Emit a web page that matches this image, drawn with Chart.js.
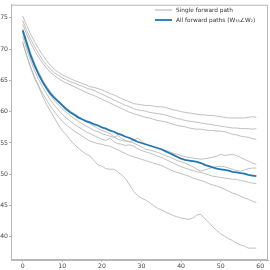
<!DOCTYPE html>
<html>
<head>
<meta charset="utf-8">
<script src="https://cdn.jsdelivr.net/npm/chart.js@4"></script>
<style>
    html, body { margin: 0; padding: 0; background: #ffffff; }
    #wrap { width: 270px; height: 270px; }
</style>
</head>
<body>
<div id="wrap"><canvas id="pathsChart" width="270" height="270"></canvas></div>
<script>
// training steps on the x axis
const steps = [0, 1, 2, 3, 4, 5, 6, 7, 8, 9, 10, 11, 12, 13, 14, 15, 16, 17, 18, 19,
    20, 21, 22, 23, 24, 25, 26, 27, 28, 29, 30, 31, 32, 33, 34, 35, 36, 37, 38, 39,
    40, 41, 42, 43, 44, 45, 46, 47, 48, 49, 50, 51, 52, 53, 54, 55, 56, 57, 58, 59];

const xTicks = [0, 10, 20, 30, 40, 50, 60];
const yTicks = [40, 45, 50, 55, 60, 65, 70, 75];

const singleLabel = 'Single forward path';
const allLabel = 'All forward paths (W\u2083\u2083\u2220W\u2082)';

// single forward paths
const path1 = [75.3, 73.8, 72.4, 71.2, 70.1, 69.1, 68.2, 67.4, 66.8, 66.3, 65.9, 65.6, 65.3, 65.0, 64.8, 64.5, 64.3, 64.0, 63.9, 63.7,
    63.5, 63.2, 62.9, 62.7, 62.4, 62.1, 61.8, 61.6, 61.3, 61.2, 61.1, 61.0, 61.0, 60.9, 60.8, 60.8, 60.7, 60.5, 60.3, 60.2,
    60.0, 59.9, 59.8, 59.7, 59.6, 59.5, 59.5, 59.4, 59.4, 59.3, 59.2, 59.1, 59.0, 59.0, 59.0, 59.0, 59.0, 59.1, 59.2, 59.1];
const path2 = [74.6, 73.0, 71.6, 70.4, 69.3, 68.3, 67.5, 66.8, 66.2, 65.8, 65.4, 65.1, 64.8, 64.6, 64.3, 64.1, 63.8, 63.6, 63.4, 63.1,
    62.8, 62.5, 62.2, 61.9, 61.6, 61.3, 61.0, 60.8, 60.5, 60.3, 60.2, 60.1, 59.9, 59.8, 59.7, 59.6, 59.5, 59.3, 59.1, 58.9,
    58.8, 58.6, 58.5, 58.4, 58.3, 58.2, 58.1, 58.0, 57.9, 57.8, 57.7, 57.6, 57.5, 57.4, 57.4, 57.3, 57.3, 57.3, 57.2, 57.3];
const path3 = [74.0, 72.4, 71.0, 69.8, 68.7, 67.8, 67.0, 66.3, 65.8, 65.3, 64.9, 64.6, 64.3, 64.0, 63.7, 63.4, 63.1, 62.8, 62.6, 62.3,
    62.0, 61.7, 61.4, 61.1, 60.8, 60.5, 60.2, 59.9, 59.7, 59.5, 59.3, 59.1, 59.0, 58.8, 58.6, 58.5, 58.4, 58.2, 58.0, 57.8,
    57.7, 57.6, 57.4, 57.3, 57.2, 57.2, 57.1, 57.0, 57.0, 56.9, 56.9, 56.8, 56.6, 56.4, 56.3, 56.1, 56.0, 55.9, 55.7, 55.6];
const path4 = [73.3, 71.3, 69.4, 67.8, 66.4, 65.2, 64.1, 63.2, 62.4, 61.8, 61.2, 60.6, 60.1, 59.7, 59.3, 58.8, 58.4, 58.1, 57.7, 57.3,
    57.0, 56.8, 56.5, 56.0, 55.6, 55.4, 55.3, 55.2, 55.4, 55.8, 55.3, 54.8, 54.6, 54.4, 54.2, 54.0, 53.8, 53.6, 53.4, 53.2,
    53.0, 52.8, 52.7, 52.6, 52.5, 52.4, 52.5, 52.6, 52.7, 52.9, 53.2, 53.0, 53.1, 53.2, 53.0, 52.7, 52.4, 52.1, 51.8, 51.6];
const path5 = [72.6, 70.6, 68.8, 67.2, 65.9, 64.7, 63.6, 62.6, 61.8, 61.1, 60.5, 59.9, 59.4, 58.9, 58.5, 58.1, 57.7, 57.4, 57.0, 56.8,
    56.5, 56.3, 56.1, 55.9, 56.2, 55.7, 55.4, 55.2, 55.0, 54.7, 54.4, 54.0, 53.9, 53.7, 53.5, 53.3, 53.0, 52.8, 52.5, 52.2,
    52.0, 51.8, 51.5, 51.2, 50.8, 50.5, 50.7, 50.9, 51.1, 51.2, 51.3, 51.2, 51.0, 50.8, 50.6, 50.5, 50.7, 50.9, 51.0, 51.0];
const path6 = [72.0, 70.0, 68.2, 66.6, 65.2, 64.0, 62.9, 61.9, 61.0, 60.3, 59.6, 59.0, 58.5, 58.0, 57.6, 57.2, 56.8, 56.5, 56.2, 55.9,
    55.6, 55.4, 55.8, 55.2, 54.9, 54.8, 54.6, 54.7, 54.5, 54.1, 53.8, 53.6, 53.4, 53.2, 52.9, 52.7, 52.4, 52.1, 51.8, 51.5,
    51.2, 51.0, 50.8, 50.6, 50.4, 50.3, 50.1, 49.9, 49.7, 49.6, 49.5, 49.4, 49.3, 49.2, 49.2, 49.0, 48.9, 48.7, 48.6, 48.5];
const path7 = [71.2, 69.0, 67.2, 65.6, 64.2, 63.0, 61.9, 60.9, 60.0, 59.2, 58.5, 57.9, 57.4, 56.9, 56.5, 56.1, 55.7, 55.3, 55.1, 54.9,
    54.8, 54.6, 54.5, 54.2, 53.9, 53.6, 53.3, 53.0, 52.8, 52.6, 52.4, 52.2, 52.0, 51.8, 51.6, 51.4, 51.1, 50.8, 50.5, 50.3,
    50.1, 49.9, 49.7, 49.4, 49.2, 49.0, 48.8, 48.5, 48.3, 48.1, 47.9, 47.6, 47.3, 47.0, 46.8, 46.5, 46.2, 46.0, 45.7, 45.5];
const path8 = [71.0, 69.0, 67.0, 65.3, 64.0, 62.5, 61.2, 60.1, 59.0, 57.9, 57.0, 56.3, 55.5, 54.8, 54.2, 53.7, 53.2, 52.9, 52.2, 51.5,
    51.3, 50.9, 50.8, 50.8, 50.4, 49.9, 49.3, 48.3, 47.3, 46.6, 46.2, 45.9, 45.5, 45.0, 44.6, 44.3, 44.0, 43.7, 43.4, 43.2,
    43.0, 42.9, 42.8, 43.0, 43.5, 43.6, 42.9, 42.3, 41.6, 41.0, 40.5, 40.1, 39.7, 39.4, 39.0, 38.7, 38.5, 38.2, 38.2, 38.2];

// all forward paths together
const allPaths = [73.0, 71.0, 69.0, 67.4, 66.0, 64.8, 63.8, 62.9, 62.2, 61.6, 61.0, 60.4, 59.9, 59.5, 59.1, 58.8, 58.5, 58.3, 58.0, 57.8,
    57.5, 57.3, 57.0, 56.8, 56.5, 56.3, 56.0, 55.8, 55.5, 55.2, 55.0, 54.8, 54.6, 54.4, 54.2, 54.0, 53.7, 53.4, 53.1, 52.8,
    52.5, 52.3, 52.2, 52.1, 52.0, 51.8, 51.5, 51.3, 51.1, 50.9, 50.8, 50.7, 50.6, 50.4, 50.3, 50.2, 50.1, 49.9, 49.8, 49.7];

const singlePaths = [path1, path2, path3, path4, path5, path6, path7, path8];

const GRAY = '#b0b0b0';
const BLUE = '#1f77b4';
const FONT = "'DejaVu Sans', sans-serif";

function toPoints(values) {
    return values.map((v, i) => ({x: steps[i], y: v}));
}

const datasets = singlePaths.map((p, i) => ({
    label: singleLabel,
    data: toPoints(p),
    borderColor: GRAY,
    borderWidth: 0.8,
    pointRadius: 0,
    tension: 0,
    order: 2,
}));
datasets.push({
    label: allLabel,
    data: toPoints(allPaths),
    borderColor: BLUE,
    borderWidth: 1.8,
    pointRadius: 0,
    tension: 0,
    order: 1,
});

// box round the plot and the legend inside the top right corner
const framePlugin = {
    id: 'frame',
    afterDraw(chart) {
        const {ctx, chartArea} = chart;
        ctx.save();
        ctx.strokeStyle = '#b8b8b8';
        ctx.lineWidth = 1;
        ctx.strokeRect(chartArea.left + 0.5, chartArea.top + 0.5,
            chartArea.right - chartArea.left - 1, chartArea.bottom - chartArea.top - 1);

        const entries = [
            {text: singleLabel, color: GRAY, width: 1},
            {text: allLabel, color: BLUE, width: 1.8},
        ];
        ctx.font = '5.8px ' + FONT;
        ctx.textBaseline = 'middle';
        entries.forEach((e, i) => {
            const y = 10 + i * 10;
            ctx.strokeStyle = e.color;
            ctx.lineWidth = e.width;
            ctx.beginPath();
            ctx.moveTo(155, y);
            ctx.lineTo(172, y);
            ctx.stroke();
            ctx.fillStyle = '#333333';
            ctx.fillText(e.text, 176, y);
        });
        ctx.restore();
    }
};

new Chart(document.getElementById('pathsChart'), {
    type: 'line',
    data: {datasets: datasets},
    options: {
        responsive: false,
        animation: false,
        layout: {padding: {top: 3, right: 2, left: 0, bottom: 0}},
        scales: {
            x: {
                type: 'linear',
                min: -2.95,
                max: 61.95,
                afterBuildTicks: axis => axis.ticks = xTicks.map(v => ({value: v})),
                afterFit: scale => { scale.height = 10; },
                grid: {drawOnChartArea: false, tickLength: 2, color: '#b8b8b8'},
                border: {color: '#b8b8b8'},
                ticks: {
                    color: '#444444',
                    font: {family: FONT, size: 6.2},
                    padding: 1,
                    maxRotation: 0,
                },
            },
            y: {
                min: 36.3,
                max: 77.1,
                afterBuildTicks: axis => axis.ticks = yTicks.map(v => ({value: v})),
                afterFit: scale => { scale.width = 11; },
                grid: {drawOnChartArea: false, tickLength: 2, color: '#b8b8b8'},
                border: {color: '#b8b8b8'},
                ticks: {
                    color: '#444444',
                    font: {family: FONT, size: 6.2},
                    padding: 1,
                },
            },
        },
        plugins: {
            legend: {display: false},
            tooltip: {enabled: false},
        },
    },
    plugins: [framePlugin],
});
</script>
</body>
</html>
